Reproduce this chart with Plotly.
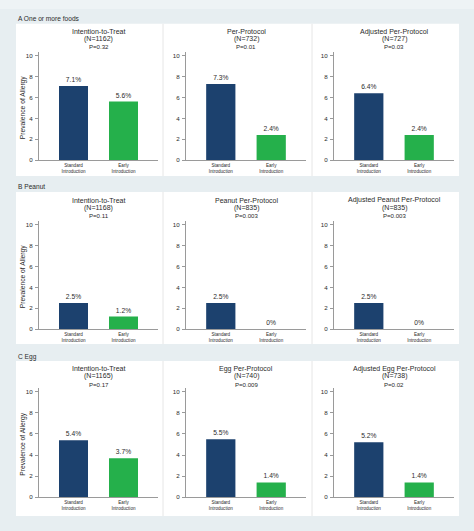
import plotly.graph_objects as go

# ---------------- data ----------------
categories = ["Standard<br>Introduction", "Early<br>Introduction"]

section_labels = ["A One or more foods", "B Peanut", "C Egg"]

panel_titles = [
    ["Intention-to-Treat", "Per-Protocol", "Adjusted Per-Protocol"],
    ["Intention-to-Treat", "Peanut Per-Protocol", "Adjusted Peanut Per-Protocol"],
    ["Intention-to-Treat", "Egg Per-Protocol", "Adjusted Egg Per-Protocol"],
]
panel_n = [
    ["(N=1162)", "(N=732)", "(N=727)"],
    ["(N=1168)", "(N=835)", "(N=835)"],
    ["(N=1165)", "(N=740)", "(N=738)"],
]
panel_p = [
    ["P=0.32", "P=0.01", "P=0.03"],
    ["P=0.11", "P=0.003", "P=0.003"],
    ["P=0.17", "P=0.009", "P=0.02"],
]

standard_values = [
    [7.1, 7.3, 6.4],
    [2.5, 2.5, 2.5],
    [5.4, 5.5, 5.2],
]
early_values = [
    [5.6, 2.4, 2.4],
    [1.2, 0.0, 0.0],
    [3.7, 1.4, 1.4],
]

y_ticks = [0, 2, 4, 6, 8, 10]
y_title = "Prevalence of Allergy"

# ---------------- style / layout ----------------
W, H = 474, 531
NAVY = "#1c416e"
GREEN = "#25b04b"
BG = "#e7eef1"
TXT = "#2b2b2b"
AX = "#9a9a9a"
FONT = "Liberation Sans, Arial, sans-serif"

# pixel geometry
col_x = [(39, 158), (186, 306), (334, 454)]
row_y0 = [161, 331, 500]          # pixel of y = 0
row_scale = [10.5, 10.5, 10.6]   # px per unit
y_max = 10.33
box_rows = [(24, 177), (193, 346), (363, 519)]
box_x = (16, 459)
dividers = [163, 312]
label_y = [19, 188, 359]
title_y = [(32, 39.5, 47.2), (201.5, 209, 216.7), (371, 378.5, 386.2)]


def px_x(p):
    return p / W


def px_y(p):
    return 1 - p / H


fig = go.Figure()
layout = dict(
    width=W, height=H,
    margin=dict(l=0, r=0, t=0, b=0),
    paper_bgcolor=BG, plot_bgcolor="white",
    showlegend=False,
    font=dict(family=FONT, color=TXT),
    bargap=0.42,
)
shapes = []
annotations = []

# outer lighter frame
shapes.append(dict(type="rect", xref="paper", yref="paper",
                   x0=0, x1=1, y0=px_y(0), y1=px_y(9),
                   fillcolor="#eef3f5", line=dict(width=0), layer="below"))

for r in range(3):
    b0, b1 = box_rows[r]
    shapes.append(dict(type="rect", xref="paper", yref="paper",
                       x0=px_x(box_x[0]), x1=px_x(box_x[1]),
                       y0=px_y(b1), y1=px_y(b0),
                       fillcolor="white", line=dict(width=0), layer="below"))
    for d in dividers:
        shapes.append(dict(type="line", xref="paper", yref="paper",
                           x0=px_x(d), x1=px_x(d), y0=px_y(b1), y1=px_y(b0),
                           line=dict(color="#e6e6e6", width=1), layer="below"))
    annotations.append(dict(text=section_labels[r], xref="paper", yref="paper",
                            x=px_x(16), y=px_y(label_y[r]), xanchor="left",
                            yanchor="middle", showarrow=False,
                            font=dict(size=6.6, color=TXT)))

    y0 = row_y0[r]
    ytop = y0 - y_max * row_scale[r]
    for c in range(3):
        idx = r * 3 + c + 1
        xa = "x" if idx == 1 else f"x{idx}"
        ya = "y" if idx == 1 else f"y{idx}"
        vals = [standard_values[r][c], early_values[r][c]]
        fig.add_trace(go.Bar(
            x=categories, y=vals,
            marker=dict(color=[NAVY, GREEN], line=dict(width=0)),
            text=[f"{v:g}%" for v in vals],
            textposition="outside",
            textfont=dict(size=6.7, color=TXT, family=FONT),
            cliponaxis=False,
            xaxis=xa, yaxis=ya, hoverinfo="skip",
        ))
        xl, xr = col_x[c]
        layout[f"xaxis{idx}"] = dict(
            domain=[px_x(xl), px_x(xr)], anchor=ya,
            range=[-0.69, 1.69], type="category",
            showline=True, linecolor=AX, linewidth=1,
            ticks="", showgrid=False, zeroline=False,
            tickfont=dict(size=4.6, color=TXT), ticklabelstandoff=0,
            fixedrange=True,
        )
        layout[f"yaxis{idx}"] = dict(
            domain=[px_y(y0), px_y(ytop)], anchor=xa,
            range=[0, y_max], tickvals=y_ticks,
            showline=True, linecolor=AX, linewidth=1,
            ticks="outside", ticklen=3, tickcolor=AX, tickwidth=1,
            showgrid=False, zeroline=False,
            tickfont=dict(size=6.2, color=TXT), ticklabelstandoff=1,
            fixedrange=True,
        )
        cx = px_x((xl + xr) / 2)
        ty = title_y[r]
        annotations.append(dict(text=panel_titles[r][c], xref="paper", yref="paper",
                                x=cx, y=px_y(ty[0]), xanchor="center", yanchor="middle",
                                showarrow=False, font=dict(size=7.0, color=TXT)))
        annotations.append(dict(text=panel_n[r][c], xref="paper", yref="paper",
                                x=cx, y=px_y(ty[1]), xanchor="center", yanchor="middle",
                                showarrow=False, font=dict(size=7.0, color=TXT)))
        annotations.append(dict(text=panel_p[r][c], xref="paper", yref="paper",
                                x=cx, y=px_y(ty[2]), xanchor="center", yanchor="middle",
                                showarrow=False, font=dict(size=6.1, color=TXT)))
    annotations.append(dict(text=y_title, xref="paper", yref="paper",
                            x=px_x(23), y=px_y((y0 + ytop) / 2 + 2),
                            xanchor="center", yanchor="middle", textangle=-90,
                            showarrow=False, font=dict(size=6.7, color=TXT)))

layout["shapes"] = shapes
layout["annotations"] = annotations
fig.update_layout(**layout)
fig.write_html(
    "out.html",
    config={"displayModeBar": False, "staticPlot": True},
    post_script="document.body.style.margin='0';document.body.style.overflow='hidden';",
)
